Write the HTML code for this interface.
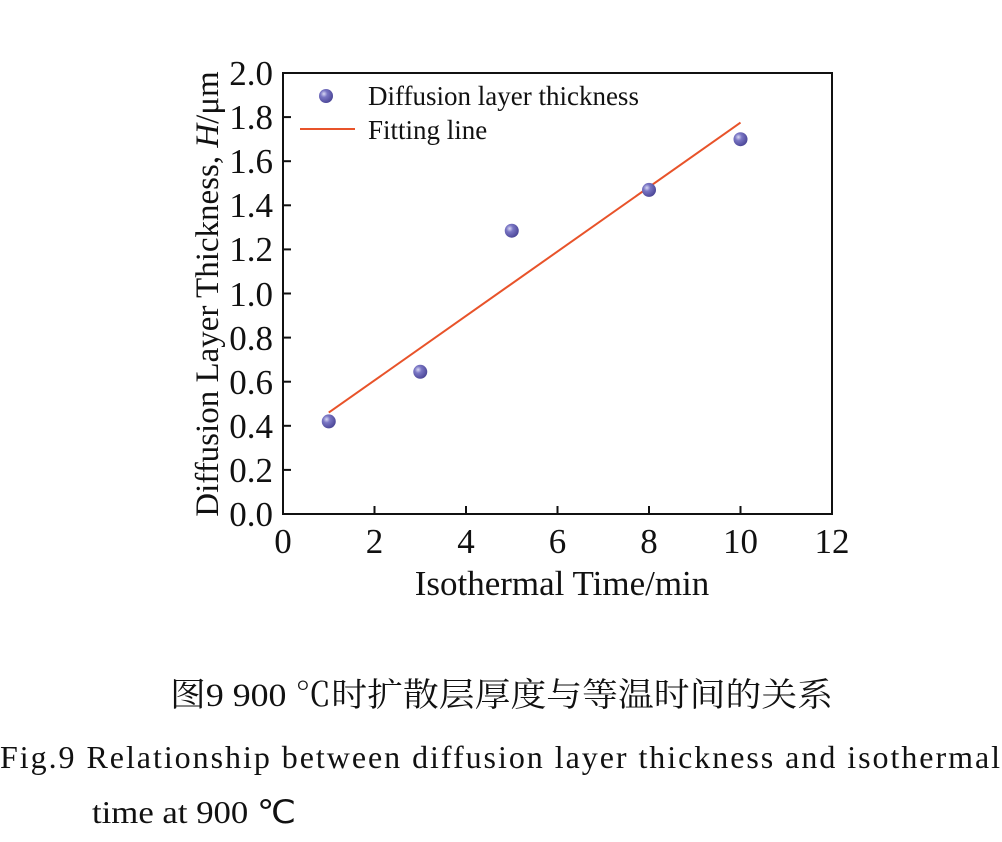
<!DOCTYPE html>
<html><head><meta charset="utf-8"><style>
body{margin:0;background:#fff;width:1002px;height:842px;overflow:hidden;font-family:"Liberation Serif","Noto Serif CJK SC",serif;}
</style></head><body>
<svg width="1002" height="842" xmlns="http://www.w3.org/2000/svg" style="position:absolute;left:0;top:0">
<defs><radialGradient id="g" cx="0.35" cy="0.35" r="0.7"><stop offset="0" stop-color="#d8d8f4"/><stop offset="0.35" stop-color="#7a76c4"/><stop offset="1" stop-color="#4a4596"/></radialGradient></defs>
<g font-family="Liberation Serif, serif" fill="#111">
<rect x="283" y="73" width="549" height="441" fill="none" stroke="#111" stroke-width="2"/>
<g stroke="#111" stroke-width="2">
<line x1="374.5" y1="514" x2="374.5" y2="506"/><line x1="466" y1="514" x2="466" y2="506"/><line x1="557.5" y1="514" x2="557.5" y2="506"/><line x1="649" y1="514" x2="649" y2="506"/><line x1="740.5" y1="514" x2="740.5" y2="506"/>
<line x1="283" y1="469.9" x2="291" y2="469.9"/><line x1="283" y1="425.8" x2="291" y2="425.8"/><line x1="283" y1="381.7" x2="291" y2="381.7"/><line x1="283" y1="337.6" x2="291" y2="337.6"/><line x1="283" y1="293.5" x2="291" y2="293.5"/><line x1="283" y1="249.4" x2="291" y2="249.4"/><line x1="283" y1="205.3" x2="291" y2="205.3"/><line x1="283" y1="161.2" x2="291" y2="161.2"/><line x1="283" y1="117.1" x2="291" y2="117.1"/>
</g>
<g font-size="35" text-anchor="middle">
<text x="283" y="553">0</text><text x="374.5" y="553">2</text><text x="466" y="553">4</text><text x="557.5" y="553">6</text><text x="649" y="553">8</text><text x="740.5" y="553">10</text><text x="832" y="553">12</text>
</g>
<g font-size="35" text-anchor="end">
<text x="273" y="526">0.0</text><text x="273" y="482">0.2</text><text x="273" y="438">0.4</text><text x="273" y="394">0.6</text><text x="273" y="350">0.8</text><text x="273" y="306">1.0</text><text x="273" y="261">1.2</text><text x="273" y="217">1.4</text><text x="273" y="173">1.6</text><text x="273" y="129">1.8</text><text x="273" y="85">2.0</text>
</g>
<text x="562" y="595" font-size="35" text-anchor="middle">Isothermal Time/min</text>
<text transform="translate(218,294) rotate(-90)" font-size="33" text-anchor="middle">Diffusion Layer Thickness, <tspan font-style="italic">H</tspan>/μm</text>
<line x1="328.75" y1="412.6" x2="740.5" y2="122.6" stroke="#e8532a" stroke-width="2"/>
<circle cx="328.75" cy="421.4" r="7" fill="url(#g)"/>
<circle cx="420.25" cy="371.8" r="7" fill="url(#g)"/>
<circle cx="511.75" cy="230.7" r="7" fill="url(#g)"/>
<circle cx="649" cy="189.9" r="7" fill="url(#g)"/>
<circle cx="740.5" cy="139.2" r="7" fill="url(#g)"/>
<circle cx="326" cy="96" r="7" fill="url(#g)"/>
<line x1="300" y1="129" x2="355" y2="129" stroke="#e8532a" stroke-width="2"/>
<text x="368" y="105" font-size="27">Diffusion layer thickness</text>
<text x="368" y="139" font-size="27">Fitting line</text>
<text x="170" y="706" font-size="33" textLength="663" lengthAdjust="spacingAndGlyphs" font-family="Liberation Serif, Noto Serif CJK SC, serif">图9  900 ℃时扩散层厚度与等温时间的关系</text>
<text x="0" y="768" font-size="32" textLength="1000" lengthAdjust="spacing">Fig.9  Relationship between diffusion layer thickness and isothermal</text>
<text x="92" y="823" font-size="32" textLength="204" lengthAdjust="spacingAndGlyphs">time at 900 ℃</text>
</g>
</svg>
</body></html>
